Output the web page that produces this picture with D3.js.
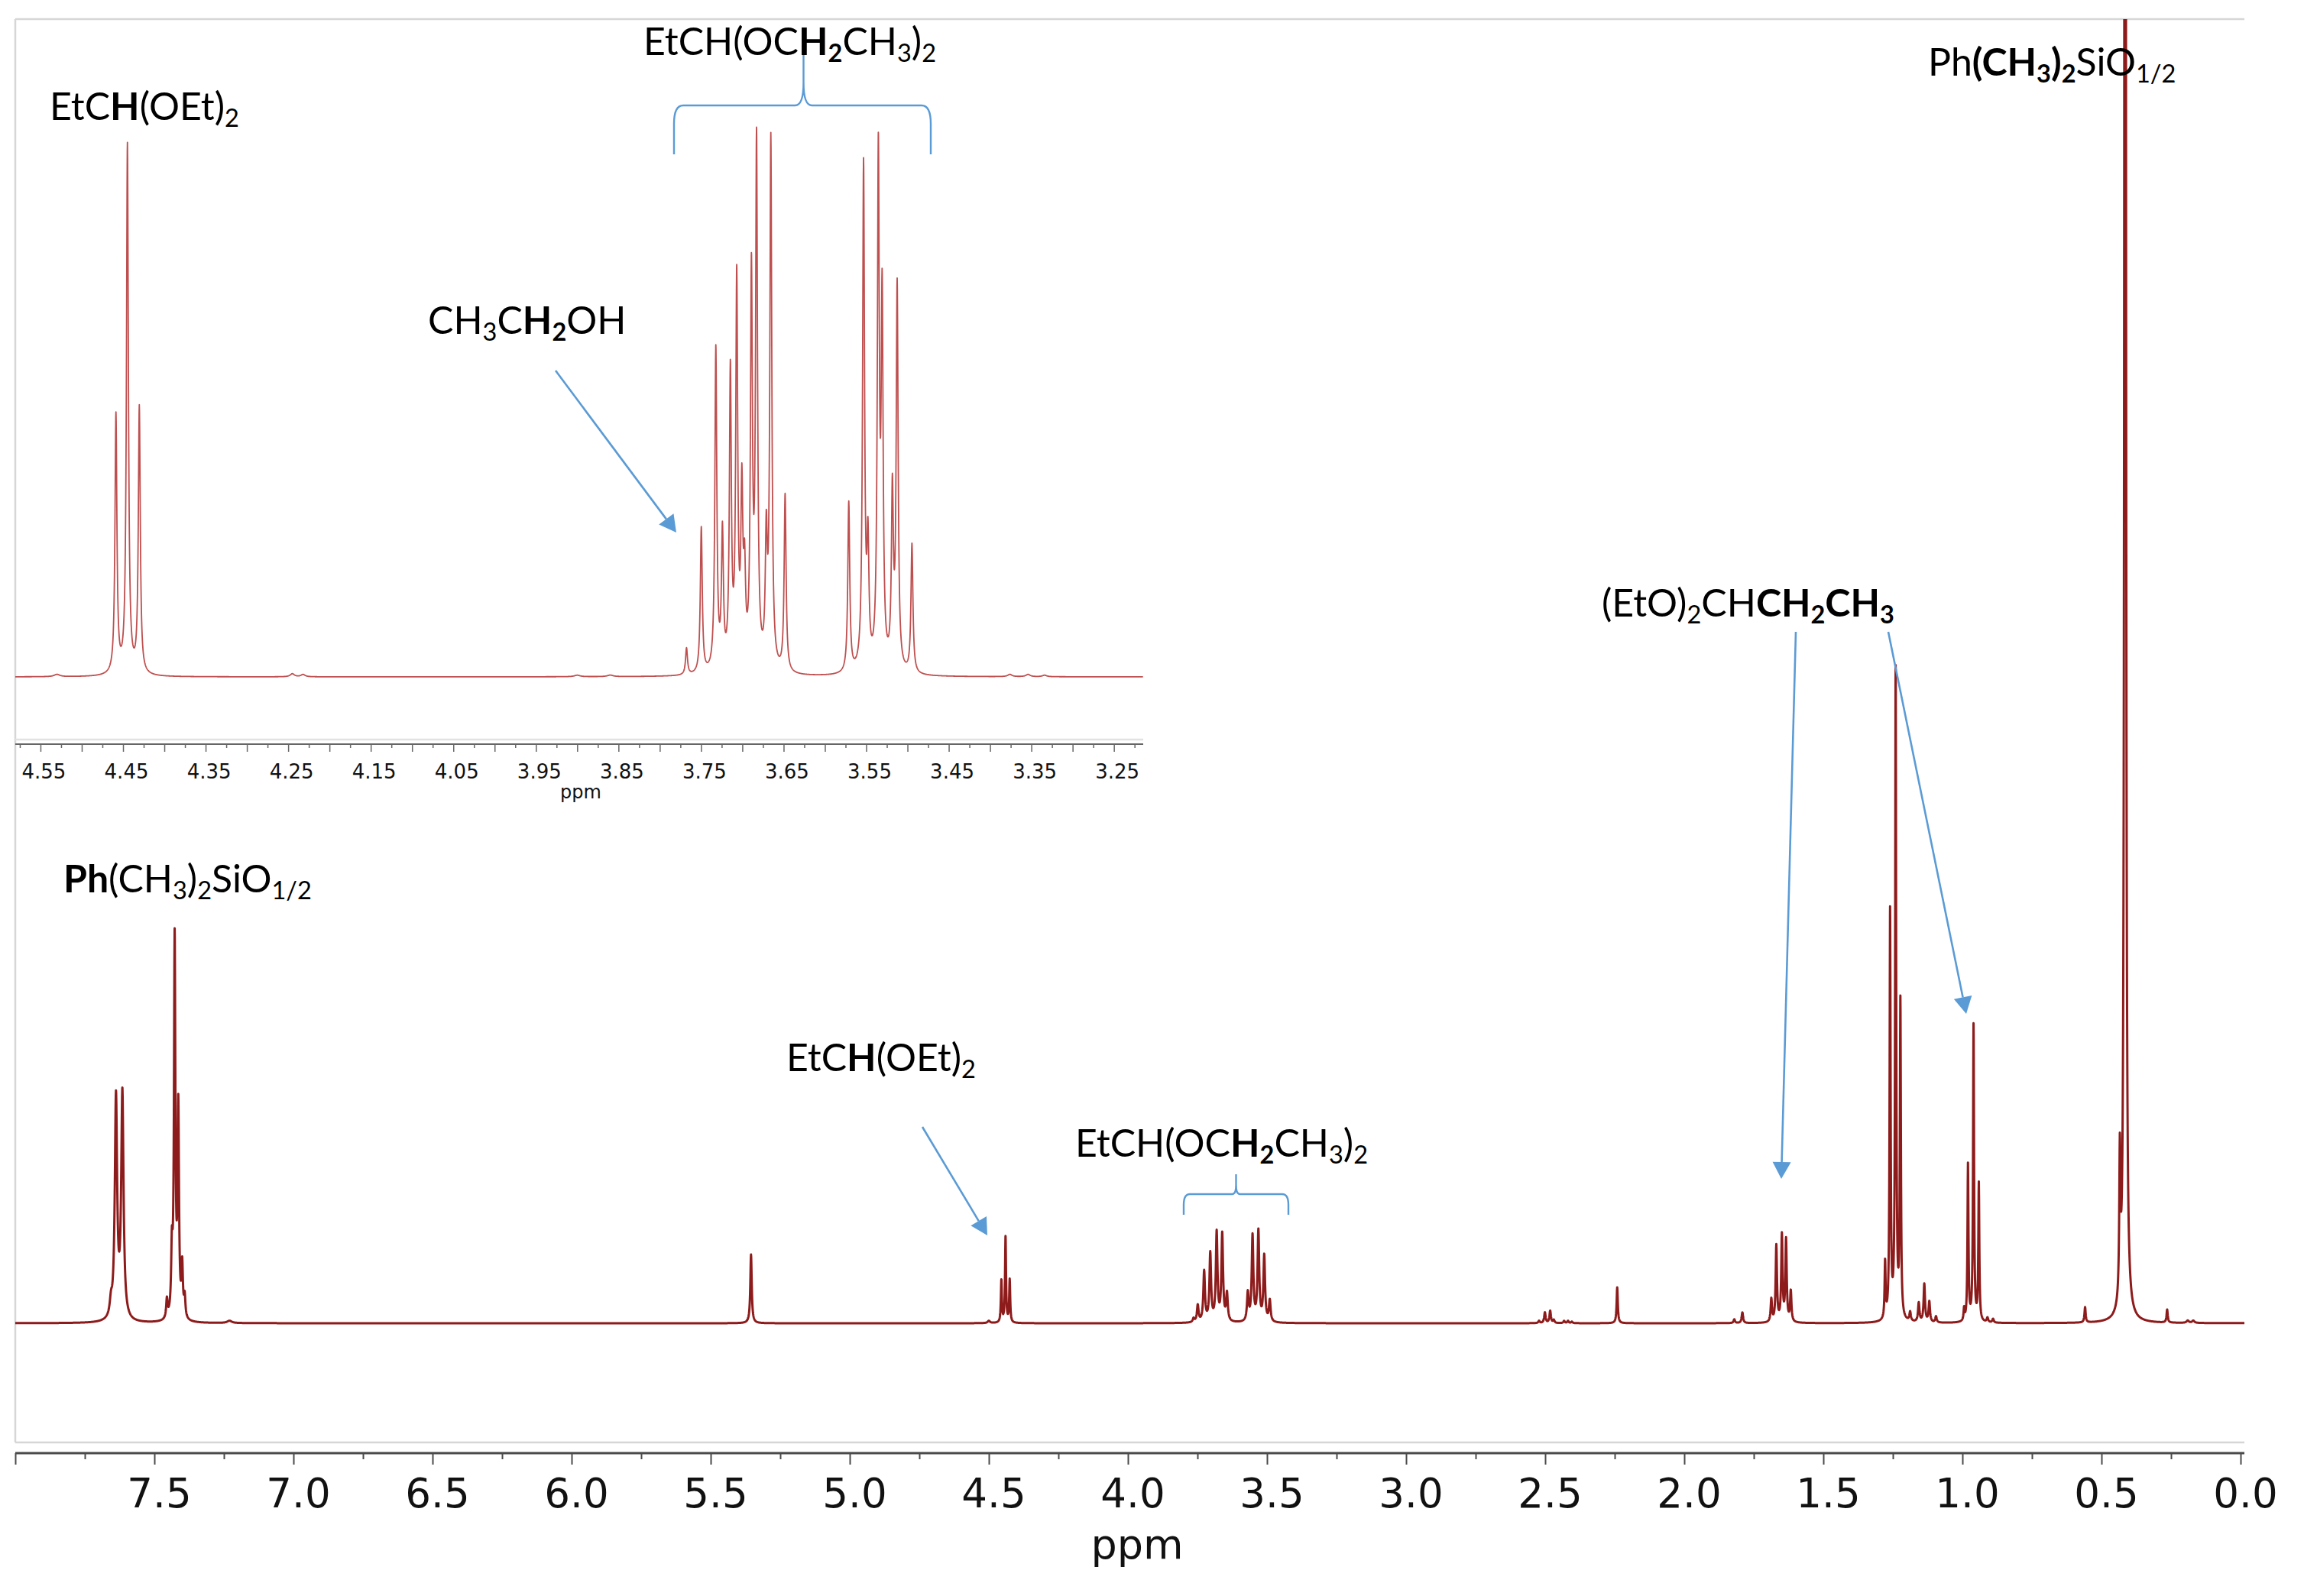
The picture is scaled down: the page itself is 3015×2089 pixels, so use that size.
<!DOCTYPE html>
<html>
<head>
<meta charset="utf-8">
<script src="https://cdn.jsdelivr.net/npm/d3@7"></script>
<style>
  html, body { margin: 0; padding: 0; background: #ffffff; }
  svg { display: block; }
</style>
</head>
<body>
<svg id="chart" width="3015" height="2089"></svg>
<script>
// ---------------- DATA ----------------
// Main 1H spectrum: [chemical shift (ppm), intensity (a.u.), half-width (ppm)]
const mainPeaks = [
  [7.656, 18, 0.005], [7.638, 290, 0.005], [7.615, 295, 0.005],
  [7.455, 25, 0.003], [7.437, 80, 0.003], [7.427, 495, 0.003], [7.414, 270, 0.003],
  [7.400, 66, 0.003], [7.391, 27, 0.003], [7.230, 3, 0.01],
  [5.355, 90, 0.003],
  [4.500, 3, 0.005],
  [4.455, 55, 0.0021], [4.440, 112, 0.0021], [4.425, 56, 0.0021],
  [3.764, 5, 0.0035], [3.749, 22, 0.0035], [3.726, 66, 0.0035], [3.704, 89, 0.0035],
  [3.681, 116, 0.0035], [3.661, 114, 0.0035], [3.644, 36, 0.0035],
  [3.569, 37, 0.0035], [3.552, 112, 0.0035], [3.531, 118, 0.0035], [3.510, 86, 0.0035],
  [3.490, 28, 0.0035],
  [2.522, 3, 0.003], [2.501, 14, 0.003], [2.482, 16, 0.003], [2.469, 4, 0.003],
  [2.432, 3, 0.003], [2.418, 3, 0.003], [2.404, 2, 0.003],
  [2.241, 47, 0.0025],
  [1.820, 5, 0.003], [1.791, 14, 0.003],
  [1.687, 30, 0.0028], [1.669, 100, 0.0028], [1.649, 113, 0.0028], [1.634, 107, 0.0028],
  [1.617, 40, 0.0028],
  [1.278, 74, 0.0021], [1.260, 534, 0.0021], [1.240, 849, 0.0021], [1.223, 414, 0.0021],
  [1.188, 12, 0.003], [1.157, 25, 0.003], [1.137, 50, 0.003], [1.119, 27, 0.003], [1.095, 8, 0.003],
  [0.994, 16, 0.0021], [0.980, 205, 0.0021], [0.960, 388, 0.0021], [0.941, 180, 0.0021],
  [0.910, 6, 0.003], [0.890, 5, 0.003],
  [0.559, 20, 0.0025],
  [0.434, 190, 0.0025], [0.415, 6000, 0.0019],
  [0.264, 17, 0.0025],
  [0.190, 3, 0.005], [0.170, 3, 0.005]
];

// Expanded region (inset): [chemical shift (ppm), intensity (a.u.), half-width (ppm)]
const insetPeaks = [
  [4.530, 3, 0.004],
  [4.4586, 339, 0.0014], [4.4447, 693, 0.0014], [4.4303, 349, 0.0014],
  [4.245, 4, 0.003], [4.232, 3, 0.003], [3.900, 2, 0.004], [3.860, 2, 0.004],
  [3.7676, 35, 0.0014],
  [3.7497, 191, 0.0014], [3.7321, 422, 0.0014], [3.7241, 176, 0.0014], [3.7145, 386, 0.0014],
  [3.7068, 505, 0.0014], [3.7006, 220, 0.0014], [3.6973, 110, 0.0014], [3.6890, 507, 0.0014],
  [3.6828, 682, 0.0014], [3.6710, 161, 0.0014], [3.6655, 693, 0.0014], [3.6482, 232, 0.0014],
  [3.5711, 223, 0.0014], [3.5532, 661, 0.0014], [3.5479, 153, 0.0014], [3.5353, 663, 0.0014],
  [3.5307, 468, 0.0014], [3.5183, 226, 0.0014], [3.5125, 502, 0.0014], [3.4946, 169, 0.0014],
  [3.376, 3, 0.003], [3.354, 3, 0.003], [3.334, 2, 0.003]
];

const mainTickLabels  = ["7.5","7.0","6.5","6.0","5.5","5.0","4.5","4.0","3.5","3.0","2.5","2.0","1.5","1.0","0.5","0.0"];
const insetTickLabels = ["4.55","4.45","4.35","4.25","4.15","4.05","3.95","3.85","3.75","3.65","3.55","3.45","3.35","3.25"];
const axisTitle = "ppm";

// ---------------- HELPERS ----------------
function lorentzSum(peaks, ppm) {
  let s = 0;
  for (const [c, h, w] of peaks) { const d = (ppm - c) / w; s += h / (1 + d * d); }
  return s;
}
function sampleSpectrum(peaks, hi, lo, step) {
  const pts = d3.range(lo, hi, step);
  peaks.forEach(p => { if (p[0] > lo && p[0] < hi) pts.push(p[0]); });
  pts.push(hi);
  pts.sort((a, b) => b - a);
  return pts.map(p => [p, lorentzSum(peaks, p)]);
}

const svg = d3.select("#chart");
const ANN_FONT = "Lato, 'Open Sans', 'Noto Sans', sans-serif";
const AX_FONT = "'DejaVu Sans', Verdana, sans-serif";
const BLUE = "#5B9BD5";

function rich(x, y, parts, size) {
  const t = svg.append("text").attr("x", x).attr("y", y)
    .attr("font-family", ANN_FONT).attr("font-size", size).attr("fill", "#000");
  let shifted = false;
  const off = size * 0.17;
  parts.forEach(([s, style]) => {
    const bold = style.includes("b"), sub = style.includes("s");
    const sp = t.append("tspan").text(s).attr("font-weight", bold ? 700 : 400);
    if (sub) {
      sp.attr("font-size", size * 0.65);
      if (!shifted) { sp.attr("dy", off); shifted = true; }
    } else if (shifted) { sp.attr("dy", -off); shifted = false; }
  });
  return t;
}

function arrow(x1, y1, x2, y2) {
  const len = Math.hypot(x2 - x1, y2 - y1);
  const ux = (x2 - x1) / len, uy = (y2 - y1) / len;
  const hl = 22, hw = 12;
  const bx = x2 - ux * hl, by = y2 - uy * hl;
  svg.append("line").attr("x1", x1).attr("y1", y1).attr("x2", bx).attr("y2", by)
    .attr("stroke", BLUE).attr("stroke-width", 2.6);
  svg.append("path")
    .attr("d", `M${x2},${y2} L${bx - uy * hw},${by + ux * hw} L${bx + uy * hw},${by - ux * hw} Z`)
    .attr("fill", BLUE);
}

function brace(x1, x2, xm, yEnd, yBar, yTip, rx, ry, crx, cry) {
  const d = `M${x1},${yEnd} L${x1},${yBar + ry} Q${x1},${yBar} ${x1 + rx},${yBar} L${xm - crx},${yBar} Q${xm},${yBar} ${xm},${yBar - cry} L${xm},${yTip}` +
            ` M${xm},${yBar - cry} Q${xm},${yBar} ${xm + crx},${yBar} L${x2 - rx},${yBar} Q${x2},${yBar} ${x2},${yBar + ry} L${x2},${yEnd}`;
  svg.append("path").attr("d", d).attr("fill", "none").attr("stroke", BLUE).attr("stroke-width", 2.4);
}

// ---------------- FRAME ----------------
const frame = svg.append("g").attr("stroke", "#d6d6d6").attr("stroke-width", 2.5);
frame.append("line").attr("x1", 20).attr("y1", 25).attr("x2", 2937).attr("y2", 25);
frame.append("line").attr("x1", 20).attr("y1", 25).attr("x2", 20).attr("y2", 1888);
frame.append("line").attr("x1", 20).attr("y1", 1888).attr("x2", 2937).attr("y2", 1888);

// ---------------- MAIN SPECTRUM ----------------
const xMain = d3.scaleLinear().domain([8, 0]).range([20, 2932]);
const yMain = d3.scaleLinear().domain([0, 1707]).range([1732, 25]);
const xMainEnd = xMain.invert(2937);

svg.append("clipPath").attr("id", "clipMain").append("rect")
  .attr("x", 20).attr("y", 25).attr("width", 2917).attr("height", 1863);

const mainData = sampleSpectrum(mainPeaks, 8.0, xMainEnd, 0.25 / 364);
svg.append("path").datum(mainData)
  .attr("clip-path", "url(#clipMain)")
  .attr("fill", "none").attr("stroke", "#8E1B1B").attr("stroke-width", 3)
  .attr("stroke-linejoin", "round")
  .attr("d", d3.line().x(d => xMain(d[0])).y(d => yMain(d[1])));

// main axis
const AXY = 1902;
svg.append("line").attr("x1", 20).attr("x2", 2937).attr("y1", AXY).attr("y2", AXY)
  .attr("stroke", "#4a4a4a").attr("stroke-width", 3);
const fmt1 = d3.format(".1f");
const mainLabelSet = new Set(mainTickLabels);
const gMajor = svg.append("g").attr("transform", `translate(0,${AXY})`)
  .call(d3.axisBottom(xMain)
    .tickValues(d3.range(0, 17).map(i => i * 0.5))
    .tickFormat(d => mainLabelSet.has(fmt1(d)) ? fmt1(d) : "")
    .tickSize(15).tickSizeOuter(0).tickPadding(18));
gMajor.select(".domain").remove();
gMajor.selectAll(".tick line").attr("stroke", "#4a4a4a").attr("stroke-width", 2);
gMajor.selectAll(".tick text").attr("font-family", AX_FONT).attr("font-size", 53)
  .attr("fill", "#111").attr("dx", 6);
const gMinor = svg.append("g").attr("transform", `translate(0,${AXY})`)
  .call(d3.axisBottom(xMain)
    .tickValues(d3.range(0, 16).map(i => i * 0.5 + 0.25))
    .tickFormat("").tickSize(8).tickSizeOuter(0));
gMinor.select(".domain").remove();
gMinor.selectAll(".tick line").attr("stroke", "#4a4a4a").attr("stroke-width", 2);

svg.append("text").attr("x", 1488).attr("y", 2040).attr("text-anchor", "middle")
  .attr("font-family", AX_FONT).attr("font-size", 54).attr("fill", "#111").text(axisTitle);

// ---------------- INSET SPECTRUM ----------------
const xInset = d3.scaleLinear().domain([4.5805, 3.2148]).range([20, 1495.7]);
const yInset = d3.scaleLinear().domain([0, 861]).range([886, 25]);

svg.append("clipPath").attr("id", "clipInset").append("rect")
  .attr("x", 20).attr("y", 25).attr("width", 1476).attr("height", 943);

const insetData = sampleSpectrum(insetPeaks, 4.5805, 3.2148, 0.25 / 1080);
svg.append("path").datum(insetData)
  .attr("clip-path", "url(#clipInset)")
  .attr("fill", "none").attr("stroke", "#BF4F4F").attr("stroke-width", 1.8)
  .attr("stroke-linejoin", "round")
  .attr("d", d3.line().x(d => xInset(d[0])).y(d => yInset(d[1])));

// inset axis
const IAXY = 974;
svg.append("line").attr("x1", 20).attr("x2", 1496).attr("y1", 968).attr("y2", 968)
  .attr("stroke", "#e2e2e2").attr("stroke-width", 2.5);
svg.append("line").attr("x1", 20).attr("x2", 1496).attr("y1", IAXY).attr("y2", IAXY)
  .attr("stroke", "#666").attr("stroke-width", 2);
const fmt2 = d3.format(".2f");
const insetLabelSet = new Set(insetTickLabels);
const giMajor = svg.append("g").attr("transform", `translate(0,${IAXY})`)
  .call(d3.axisBottom(xInset)
    .tickValues(d3.range(65, 92).map(i => i * 0.05))
    .tickFormat(d => insetLabelSet.has(fmt2(d)) ? fmt2(d) : "")
    .tickSize(10).tickSizeOuter(0).tickPadding(17));
giMajor.select(".domain").remove();
giMajor.selectAll(".tick line").attr("stroke", "#666").attr("stroke-width", 1.5);
giMajor.selectAll(".tick text").attr("font-family", AX_FONT).attr("font-size", 26)
  .attr("fill", "#111").attr("dx", 4);
const giMinor = svg.append("g").attr("transform", `translate(0,${IAXY})`)
  .call(d3.axisBottom(xInset)
    .tickValues(d3.range(129, 184, 2).map(i => i * 0.025))
    .tickFormat("").tickSize(5).tickSizeOuter(0));
giMinor.select(".domain").remove();
giMinor.selectAll(".tick line").attr("stroke", "#666").attr("stroke-width", 1.5);

svg.append("text").attr("x", 760).attr("y", 1045).attr("text-anchor", "middle")
  .attr("font-family", AX_FONT).attr("font-size", 24).attr("fill", "#111").text(axisTitle);

// ---------------- ANNOTATIONS ----------------
const FS = 50;
// inset
rich(65, 157, [["EtC", ""], ["H", "b"], ["(OEt)", ""], ["2", "s"]], FS);
rich(842, 72, [["EtCH(OC", ""], ["H", "b"], ["2", "bs"], ["CH", ""], ["3", "s"], [")", ""], ["2", "s"]], FS);
rich(560, 437, [["CH", ""], ["3", "s"], ["C", ""], ["H", "b"], ["2", "bs"], ["OH", ""]], FS);
brace(882, 1218, 1051.5, 202, 138, 72, 12, 24, 11, 30);
arrow(727, 485, 885, 697);

// main
rich(83, 1168, [["Ph", "b"], ["(CH", ""], ["3", "s"], [")", ""], ["2", "s"], ["SiO", ""], ["1/2", "s"]], FS);
rich(1029, 1402, [["EtC", ""], ["H", "b"], ["(OEt)", ""], ["2", "s"]], FS);
arrow(1207, 1475, 1292, 1617);
rich(1407, 1514, [["EtCH(OC", ""], ["H", "b"], ["2", "bs"], ["CH", ""], ["3", "s"], [")", ""], ["2", "s"]], FS);
brace(1549, 1686, 1617.5, 1590, 1563, 1537, 8, 14, 5, 12);
rich(2096, 807, [["(EtO)", ""], ["2", "s"], ["CH", ""], ["CH", "b"], ["2", "bs"], ["CH", "b"], ["3", "bs"]], FS);
arrow(2350, 827, 2331, 1543);
arrow(2471, 827, 2573, 1327);
rich(2523, 99, [["Ph", ""], ["(CH", "b"], ["3", "bs"], [")", "b"], ["2", "bs"], ["SiO", ""], ["1/2", "s"]], FS);
</script>
</body>
</html>
